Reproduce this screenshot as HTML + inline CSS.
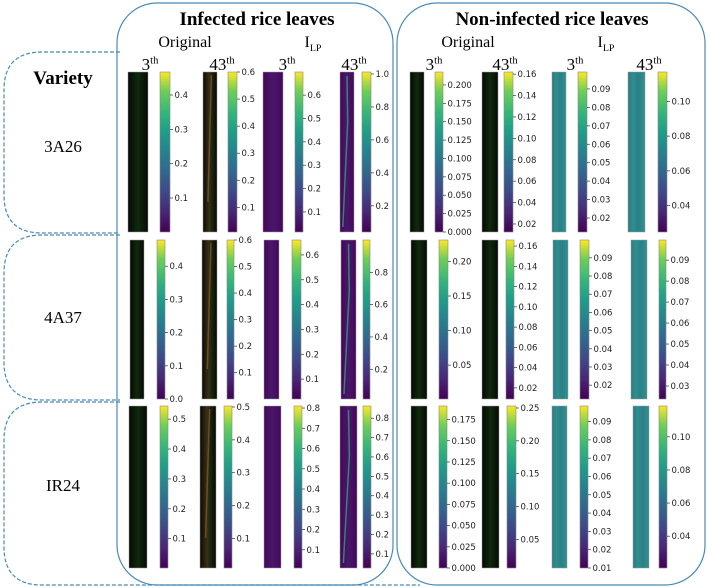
<!DOCTYPE html>
<html><head><meta charset="utf-8"><style>
html,body{margin:0;padding:0;background:#fff;}
svg{display:block;}
.t{font-family:"Liberation Serif",serif;fill:#000;}
.k{font-family:"DejaVu Sans",sans-serif;font-size:8.5px;fill:#222;}
</style></head><body>
<svg id="fig" width="708" height="587" viewBox="0 0 708 587" xmlns="http://www.w3.org/2000/svg">
<defs>
<linearGradient id="vir" x1="0" y1="1" x2="0" y2="0">
<stop offset="0" stop-color="#440154"/><stop offset="0.13" stop-color="#482878"/><stop offset="0.25" stop-color="#3e4989"/><stop offset="0.38" stop-color="#31688e"/><stop offset="0.5" stop-color="#26828e"/><stop offset="0.63" stop-color="#1f9e89"/><stop offset="0.75" stop-color="#35b779"/><stop offset="0.88" stop-color="#6ece58"/><stop offset="1" stop-color="#fde725"/>
</linearGradient>
<linearGradient id="orig" x1="0" y1="0" x2="1" y2="0"><stop offset="0" stop-color="#050805"/><stop offset="0.5" stop-color="#0f2a0c"/><stop offset="1" stop-color="#060906"/></linearGradient>
<linearGradient id="origInf" x1="0" y1="0" x2="1" y2="0"><stop offset="0" stop-color="#0a0a05"/><stop offset="0.45" stop-color="#3a3015"/><stop offset="0.6" stop-color="#1c2a10"/><stop offset="1" stop-color="#080805"/></linearGradient>
<linearGradient id="ilpInf" x1="0" y1="0" x2="1" y2="0"><stop offset="0" stop-color="#46075a"/><stop offset="0.5" stop-color="#48176a"/><stop offset="1" stop-color="#46075a"/></linearGradient>
<linearGradient id="ilpNon" x1="0" y1="0" x2="1" y2="0"><stop offset="0" stop-color="#2b7a8c"/><stop offset="0.3" stop-color="#2f8f89"/><stop offset="0.6" stop-color="#2a7f8c"/><stop offset="1" stop-color="#32918a"/></linearGradient>
</defs>
<g id="frames"></g>
<g id="panels"></g>
<g id="labels"></g>
</svg>
<script>
// colorbar ranges per panel: [vmin, vmax], rows x 8 columns
const ranges = [
 [[0.001,0.467],[0.009,0.600],[0.014,0.699],[0.041,1.012],[0.000,0.2176],[0.0125,0.162],[0.0124,0.0992],[0.0248,0.1169]],
 [[0.000,0.479],[0.001,0.600],[0.020,0.660],[0.016,1.000],[0.001,0.231],[0.009,0.166],[0.0124,0.0998],[0.0238,0.0996]],
 [[0.002,0.544],[0.010,0.503],[0.010,0.810],[0.027,0.863],[0.000,0.191],[0.0064,0.253],[0.010,0.0985],[0.0208,0.1186]]
];
// tick labels per panel
const ticks = [
 [["0.4","0.3","0.2","0.1"],["0.6","0.5","0.4","0.3","0.2","0.1"],["0.6","0.5","0.4","0.3","0.2","0.1"],["1.0","0.8","0.6","0.4","0.2"],
  ["0.200","0.175","0.150","0.125","0.100","0.075","0.050","0.025","0.000"],["0.16","0.14","0.12","0.10","0.08","0.06","0.04","0.02"],["0.09","0.08","0.07","0.06","0.05","0.04","0.03","0.02"],["0.10","0.08","0.06","0.04"]],
 [["0.4","0.3","0.2","0.1","0.0"],["0.6","0.5","0.4","0.3","0.2","0.1"],["0.6","0.5","0.4","0.3","0.2","0.1"],["0.8","0.6","0.4","0.2"],
  ["0.20","0.15","0.10","0.05"],["0.16","0.14","0.12","0.10","0.08","0.06","0.04","0.02"],["0.09","0.08","0.07","0.06","0.05","0.04","0.03","0.02"],["0.09","0.08","0.07","0.06","0.05","0.04","0.03"]],
 [["0.5","0.4","0.3","0.2","0.1"],["0.5","0.4","0.3","0.2","0.1"],["0.8","0.7","0.6","0.5","0.4","0.3","0.2","0.1"],["0.8","0.7","0.6","0.5","0.4","0.3","0.2","0.1"],
  ["0.175","0.150","0.125","0.100","0.075","0.050","0.025","0.000"],["0.25","0.20","0.15","0.10","0.05"],["0.09","0.08","0.07","0.06","0.05","0.04","0.03","0.02","0.01"],["0.10","0.08","0.06","0.04"]]
];
const varieties = ["3A26","4A37","IR24"];
const NS="http://www.w3.org/2000/svg";
function mk(tag,attrs,parent){const e=document.createElementNS(NS,tag);for(const k in attrs)e.setAttribute(k,attrs[k]);parent.appendChild(e);return e;}
// layout (geometry only)
const L = [
 {img:[[128,148],[203,217],[263,283],[340,354],[410,424],[482,498],[552,566],[628,645]],cb:[[160,170],[228,237],[295,303],[362,371],[435,443],[504,513],[578,587],[658,667]],y:[72,232]},
 {img:[[130,144],[202,217],[264,279],[341,356],[411,427],[482,498],[553,568],[631,647]],cb:[[157,165],[227,234],[292,301],[363,370],[439,448],[506,514],[580,589],[659,666]],y:[240,399]},
 {img:[[129,147],[200,216],[264,281],[340,357],[411,427],[482,499],[552,567],[633,649]],cb:[[160,168],[224,232],[294,302],[363,371],[439,447],[507,516],[580,588],[659,667]],y:[406,568]}
];
const fills=["url(#orig)","url(#origInf)","url(#ilpInf)","url(#ilpInf)","url(#orig)","url(#orig)","url(#ilpNon)","url(#ilpNon)"];
const P=document.getElementById('panels');
ranges.forEach((row,r)=>{
 row.forEach((rg,c)=>{
  const lay=L[r];const [y0,y1]=lay.y;
  const g=mk('g',{},P);
  
  
  const im=lay.img[c];
  const rect=mk('rect',{x:im[0],y:y0,width:im[1]-im[0],height:y1-y0,fill:fills[c],stroke:'#999','stroke-width':0.5},g);
  
  
  const w=im[1]-im[0];
  if(c===3){const s=mk('path',{d:`M${im[0]+w*0.5} ${y0+4} L${im[0]+w*0.55} ${y0+50} L${im[0]+w*0.2} ${y1-5}`,stroke:'#2fb47c','stroke-width':1.5,fill:'none',opacity:0.7},g);
   }
  if(c===1){const s=mk('path',{d:`M${im[0]+w*0.6} ${y0+3} L${im[0]+w*0.35} ${y1-30}`,stroke:'#8a5a2a','stroke-width':1.5,fill:'none',opacity:0.7},g);
   }
  const cb=lay.cb[c];
  const bar=mk('rect',{x:cb[0],y:y0,width:cb[1]-cb[0],height:y1-y0,fill:'url(#vir)',stroke:'#888','stroke-width':0.6},g);
  
  
  const sy=v=>y1-(v-rg[0])/(rg[1]-rg[0])*(y1-y0);
  ticks[r][c].forEach(tl=>{
   const yy=sy(parseFloat(tl));
   const tk=mk('line',{x1:cb[1],x2:cb[1]+3,y1:yy,y2:yy,stroke:'#333','stroke-width':0.7},g);
   
   
   const tx=mk('text',{x:cb[1]+4.5,y:yy+3,class:'k'},g);tx.textContent=tl;
   
   
  });
 });
});
// frames
const F=document.getElementById('frames');
const rowsY=[[52,233],[235,400],[402,585]];
rowsY.forEach((ry,i)=>{
 const rr=38, xb=i===2?420:120;
 const p=mk('path',{d:`M120 ${ry[0]} L${4+rr} ${ry[0]} Q4 ${ry[0]} 4 ${ry[0]+rr} L4 ${ry[1]-rr} Q4 ${ry[1]} ${4+rr} ${ry[1]} L${xb} ${ry[1]}`,fill:'none',stroke:'#4a8ab8','stroke-width':1.2,'stroke-dasharray':'4 2'},F);
 
 
});
[[117,3,276,582,'infected-group-frame'],[397,3,308,582,'non-infected-group-frame']].forEach(b=>{
 const r=mk('rect',{x:b[0],y:b[1],width:b[2],height:b[3],rx:40,ry:40,fill:'none',stroke:'#4a8ab8','stroke-width':1.2},F);
 
 
});
// labels
const T=document.getElementById('labels');
function txt(x,y,s,size,bold,name,sup,sub){
 const t=mk('text',{x:x,y:y,class:'t','font-size':size,'text-anchor':'middle','font-weight':bold?'bold':'normal'},T);
 
 
 t.appendChild(document.createTextNode(s));
 if(sup){const ts=mk('tspan',{'font-size':size*0.62,dy:-size*0.38},t);ts.textContent=sup;}
 if(sub){const ts=mk('tspan',{'font-size':size*0.62,dy:size*0.25},t);ts.textContent=sub;}
}
txt(257,25,'Infected rice leaves',19,true,'infected-title');
txt(552,25,'Non-infected rice leaves',19,true,'non-infected-title');
txt(185,47,'Original',16,false,'infected-original-header');
txt(468,47,'Original',16,false,'non-infected-original-header');
txt(313,47,'I',16,false,'infected-ilp-header',null,'LP');
txt(606,47,'I',16,false,'non-infected-ilp-header',null,'LP');
[[150,'3'],[222,'43'],[287,'3'],[354,'43'],[434,'3'],[505,'43'],[575,'3'],[649,'43']].forEach((h,i)=>{
 txt(h[0],70,h[1],17,false,'day-header-'+(i+1),'th');
});
txt(63,84,'Variety',19,true,'variety-header');
txt(63,152,'3A26',17,false,'variety-3a26');
txt(63,323,'4A37',17,false,'variety-4a37');
txt(63,491,'IR24',17,false,'variety-ir24');
</script>
</body></html>
